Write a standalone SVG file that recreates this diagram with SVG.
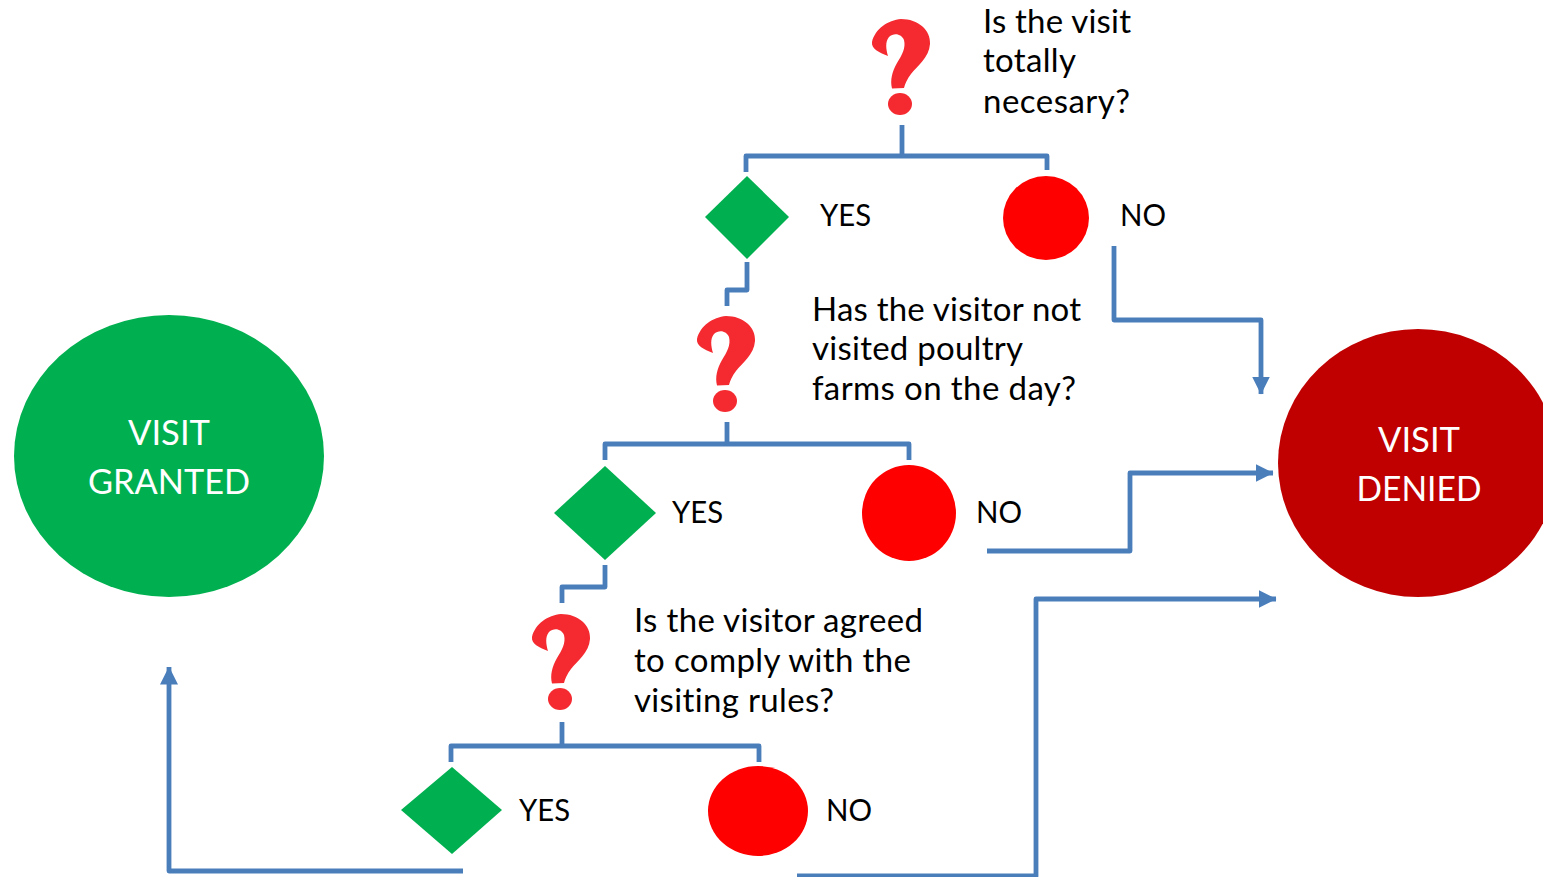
<svg xmlns="http://www.w3.org/2000/svg" xmlns:xlink="http://www.w3.org/1999/xlink" width="1543" height="877" viewBox="0 0 1543 877">
<style>
text{font-family:"Lato","Liberation Sans",sans-serif;font-size:33px;fill:#000;font-variant-ligatures:none}
.w{fill:#fff;font-size:35px;text-anchor:middle}
.k{font-size:31px}
.c{fill:none;stroke:#4a7ebb;stroke-width:4.800;stroke-linejoin:round}
.y{fill:#00b050}.n{fill:#f00}
</style>
<defs>
<marker id="a" markerUnits="userSpaceOnUse" markerWidth="18" markerHeight="18" refX="17.500" refY="9" orient="auto"><path d="M0 0L18 9L0 18Z" fill="#4a7ebb"/></marker>
<g id="q"><path fill="#f42a30" d="M872 42C875 29 888 20 901 19C918 19 931 30 930 44C929 58 917 66 911 74C907 79 905 84 904 88L892 88.500C890 80 892 72 897 63C902 55 906 48 904 40C902 34 894 32 889 37C885 42 886 49 888 56C880 53 871 49 872 42Z"/><ellipse cx="900" cy="104" rx="12" ry="11" fill="#f42a30"/></g>
</defs>
<rect width="1543" height="877" fill="#fff"/>
<g id="connectors">
<path class="c" d="M902 125V156M746 172V156H1047V170"/>
<path class="c" d="M747 262V290H727V306"/>
<path class="c" d="M727 422V444M605 460V444H909V460"/>
<path class="c" d="M605 565V587H562V603"/>
<path class="c" d="M562 722V746M451 762V746H759V762"/>
<path class="c" d="M1114 246V320H1261V394" marker-end="url(#a)"/>
<path class="c" d="M987 551H1130V473H1273" marker-end="url(#a)"/>
<path class="c" d="M797 876H1036V599H1276" marker-end="url(#a)"/>
<path class="c" d="M463 871H169V667" marker-end="url(#a)"/>
</g>
<g id="granted"><ellipse class="y" cx="169" cy="456" rx="155" ry="141"/><text class="w" x="169" y="445" textLength="82" lengthAdjust="spacingAndGlyphs">VISIT</text><text class="w" x="169" y="494" textLength="162" lengthAdjust="spacingAndGlyphs">GRANTED</text></g>
<g id="denied"><ellipse cx="1418" cy="463" rx="140" ry="134" fill="#c00000"/><text class="w" x="1419" y="452" textLength="82" lengthAdjust="spacingAndGlyphs">VISIT</text><text class="w" x="1419" y="501" textLength="125" lengthAdjust="spacingAndGlyphs">DENIED</text></g>
<g id="q1"><use xlink:href="#q" href="#q"/><text x="983" y="33" textLength="148">Is the visit</text><text x="983" y="72" textLength="93">totally</text><text x="983" y="113" textLength="147">necesary?</text></g>
<g id="yes1"><path class="y" d="M705 217L747 176L789 217L747 259Z"/><text class="k" x="820" y="226" textLength="51" lengthAdjust="spacingAndGlyphs">YES</text></g>
<g id="no1"><ellipse class="n" cx="1046" cy="218" rx="43" ry="42"/><text class="k" x="1120" y="226" textLength="46" lengthAdjust="spacingAndGlyphs">NO</text></g>
<g id="q2"><use xlink:href="#q" href="#q" transform="translate(-175 297)"/><text x="812" y="321" textLength="269">Has the visitor not</text><text x="812" y="360" textLength="211">visited poultry</text><text x="812" y="400" textLength="264">farms on the day?</text></g>
<g id="yes2"><path class="y" d="M554 513L605 466L656 513L605 560Z"/><text class="k" x="672" y="523" textLength="51" lengthAdjust="spacingAndGlyphs">YES</text></g>
<g id="no2"><ellipse class="n" cx="909" cy="513" rx="47" ry="48"/><text class="k" x="976" y="523" textLength="46" lengthAdjust="spacingAndGlyphs">NO</text></g>
<g id="q3"><use xlink:href="#q" href="#q" transform="translate(-340 595)"/><text x="634" y="632" textLength="289">Is the visitor agreed</text><text x="634" y="672" textLength="277">to comply with the</text><text x="634" y="712" textLength="200">visiting rules?</text></g>
<g id="yes3"><path class="y" d="M401 810L452 767L502 810L452 854Z"/><text class="k" x="519" y="821" textLength="51" lengthAdjust="spacingAndGlyphs">YES</text></g>
<g id="no3"><ellipse class="n" cx="758" cy="811" rx="50" ry="45"/><text class="k" x="826" y="821" textLength="46" lengthAdjust="spacingAndGlyphs">NO</text></g>
</svg>
